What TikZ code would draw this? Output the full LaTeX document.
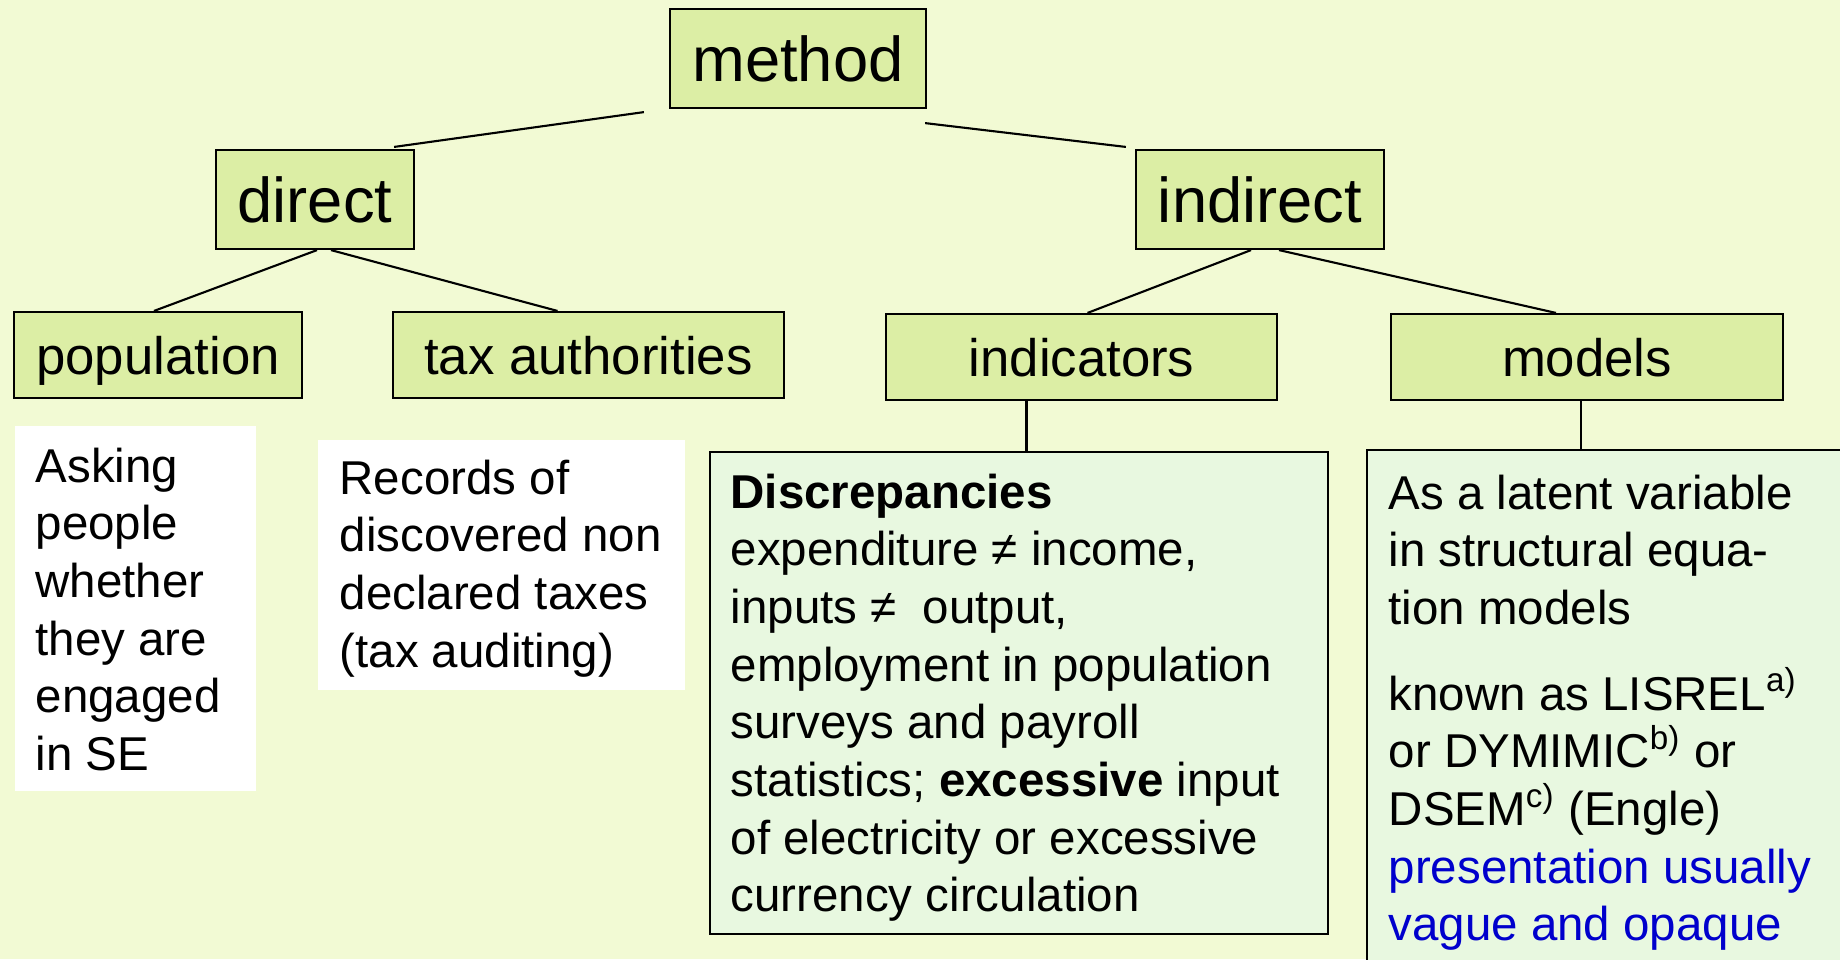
\documentclass[tikz,border=0pt]{standalone}
\usepackage{fontspec}
\setmainfont{Liberation Sans}
\usetikzlibrary{calc}
\definecolor{slidebg}{RGB}{242,250,212}
\definecolor{boxfill}{RGB}{220,238,165}
\definecolor{notefill}{RGB}{232,248,224}
\definecolor{noteblue}{RGB}{0,0,204}

\begin{document}
\begin{tikzpicture}[x=0.01cm,y=-0.01cm,
	cat/.style={draw,line width=0.6pt,fill=boxfill,inner sep=0pt,text depth=0pt},
	big/.style={cat,minimum height=0.99cm,text height=13.1pt,font=\fontsize{18}{21}\selectfont},
	small/.style={cat,minimum height=0.86cm,text height=11pt,font=\fontsize{15}{18}\selectfont},
	panel/.style={inner sep=0pt,anchor=north west},
	note/.style={inner sep=0pt,anchor=north west,align=left,font=\fontsize{13.5}{16.4}\selectfont},
	link/.style={line width=0.6pt}]
	% background
	\fill[slidebg] (0,0) rectangle (1840,959);
	\useasboundingbox (0,0) rectangle (1840,959);
	\clip (0,0) rectangle (1840,959);
	
	% method and its two branches
	\node[big,minimum width=2.56cm] (method) at (798,58.5) {method};
	\node[big,minimum width=1.98cm] (direct) at (315,199.5) {direct};
	\node[big,minimum width=2.48cm] (indirect) at (1260,199.5) {indirect};
	
	% third level
	\node[small,minimum width=2.88cm] (population) at (158,355) {population};
	\node[small,minimum width=3.91cm] (tax) at (588.5,355) {tax authorities};
	\node[small,minimum width=3.91cm] (indicators) at (1081.5,357) {indicators};
	\node[small,minimum width=3.92cm] (models) at (1587,357) {models};
	
	% panels under the boxes
	\node[panel,fill=white,minimum width=2.41cm,minimum height=3.65cm] (askbox) at (14,425) {};
	\node[panel,fill=white,minimum width=3.67cm,minimum height=2.50cm] (recbox) at (317,439) {};
	\node[panel,draw,line width=0.6pt,fill=notefill,minimum width=6.18cm,minimum height=4.82cm] (discbox) at (709,451) {};
	\node[panel,draw,line width=0.6pt,fill=notefill,minimum width=4.94cm,minimum height=5.30cm] (modbox) at (1366,449) {};
	
	% texts
	\node[note] (asktext) at (35,447) {Asking\\people\\whether\\they are\\engaged\\in SE};
	\node[note] (rectext) at (339,459) {Records of\\discovered non\\declared taxes\\(tax auditing)};
	\node[note] (disctext) at (730,473) {\textbf{Discrepancies}\\expenditure ≠ income,\\inputs ≠~ output,\\employment in population\\surveys and payroll\\statistics; \textbf{excessive} input\\of electricity or excessive\\currency circulation};
	\node[note] (modtext) at (1388,474) {As a latent variable\\in structural equa-\\tion models\\[8pt]known as LISREL\textsuperscript{a)}\\or DYMIMIC\textsuperscript{b)} or\\DSEM\textsuperscript{c)} (Engle)\\\textcolor{noteblue}{presentation usually}\\\textcolor{noteblue}{vague and opaque}};
	
	% lines
	\draw[link] ($(method.south west)+(-25,3)$) -- ($(direct.north east)+(-21,-2)$);
	\draw[link] ($(method.south east)+(-2,14)$) -- ($(indirect.north west)+(-9,-2)$);
	\draw[link] ($(direct.south)+(2,0)$) -- ($(population.north)+(-4,0)$);
	\draw[link] ($(direct.south)+(16,0)$) -- ($(tax.north)+(-31,0)$);
	\draw[link] ($(indirect.south)+(-9,0)$) -- ($(indicators.north)+(6,0)$);
	\draw[link] ($(indirect.south)+(19,0)$) -- ($(models.north)+(-31,0)$);
	\draw[link] ($(indicators.south)+(-55,0)$) coordinate (i) -- (i |- discbox.north);
	\draw[link] ($(models.south)+(-6,0)$) coordinate (m) -- (m |- modbox.north);
\end{tikzpicture}
\end{document}
